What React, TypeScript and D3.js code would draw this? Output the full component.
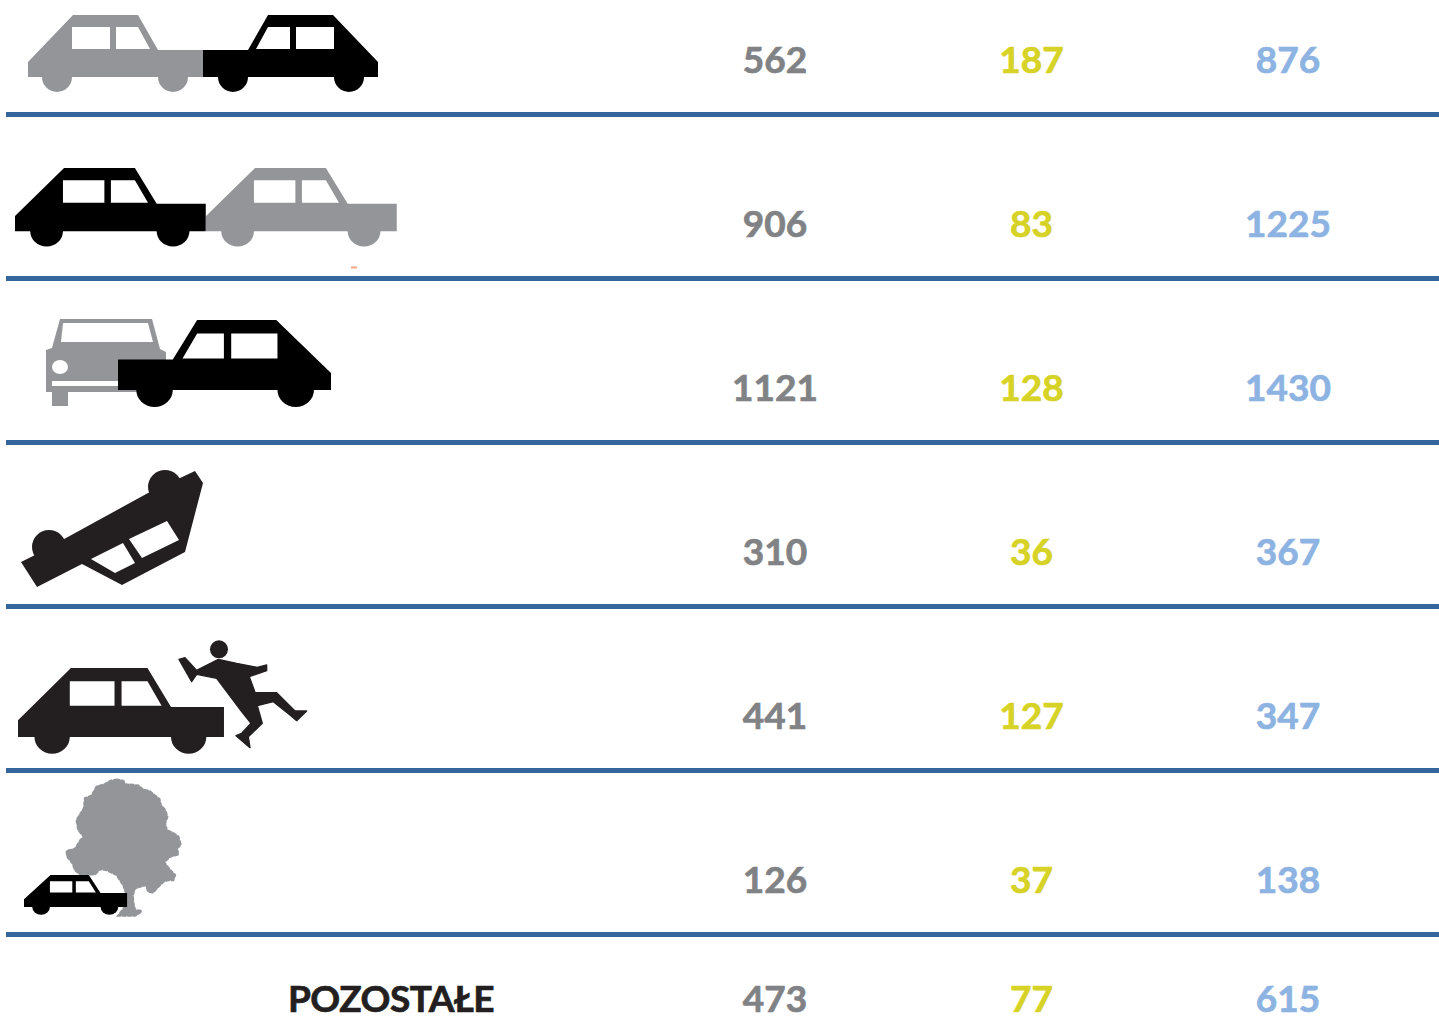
import React from "react";
import { scaleLinear, scalePoint, line, curveLinearClosed } from "d3";

const categories = ["tail-a", "tail-b", "side", "rollover", "pedestrian", "tree", "other"];
const otherLabel = "POZOSTAŁE";

// three value columns, one entry per row
const firstValues = [562, 906, 1121, 310, 441, 126, 473];
const secondValues = [187, 83, 128, 36, 127, 37, 77];
const thirdValues = [876, 1225, 1430, 367, 347, 138, 615];

const columns = [
  { key: "first", values: firstValues, color: "#808285" },
  { key: "second", values: secondValues, color: "#d6d226" },
  { key: "third", values: thirdValues, color: "#8db3e2" },
];

const WIDTH = 1439;
const HEIGHT = 1034;
const GREY = "#939598";
const DARK = "#231f20";

const xScale = scalePoint<string>().domain(columns.map((c) => c.key)).range([775, 1288]);
const yScale = scaleLinear().domain([0, categories.length - 1]).range([114.5, 1098.5]);

// text sits above the rule of its row, the last row has no rule and is set higher
const baseline = (i: number) => (i === categories.length - 1 ? 1012 : yScale(i) - 41.5);

// base car, faces left, 175 wide and 62 to the sill
const carBody = "M0 47L45 0H110L130 35H175V62H0Z";
const carGlass = "M44 12H82V34H44ZM88 12H110L122 34H88Z";

function Car({ x, y, sx = 1, sy = 1, fill }: { x: number; y: number; sx?: number; sy?: number; fill: string }) {
  return (
    <g transform={`translate(${x},${y}) scale(${sx},${sy})`}>
      <circle cx={29} cy={62} r={15} fill={fill} />
      <circle cx={145} cy={62} r={15} fill={fill} />
      <path d={carBody} fill={fill} />
      <path d={carGlass} fill="#fff" />
    </g>
  );
}

const closed = line().curve(curveLinearClosed);

const personPts: [number, number][] = [
  [27, 73], [45, 68], [80, 106], [145, 73], [200, 85], [262, 97], [290, 90], [290, 107], [238, 125],
  [255, 172], [320, 173], [375, 228], [410, 228], [380, 257], [360, 240], [310, 200], [262, 212],
  [277, 265], [235, 305], [240, 338], [198, 302], [215, 295], [243, 265], [215, 230], [140, 130],
  [80, 118], [65, 140],
];

const treePts: [number, number][] = [
  [170, 14], [190, 18], [195, 28], [220, 30], [235, 32], [250, 45], [268, 48], [285, 62], [298, 72],
  [302, 90], [315, 105], [322, 125], [315, 145], [320, 165], [340, 175], [355, 185], [362, 210],
  [350, 220], [355, 238], [330, 245], [312, 262], [330, 285], [345, 300], [340, 315], [325, 315],
  [310, 320], [295, 335], [280, 352], [265, 350], [258, 330], [240, 335], [225, 340], [218, 360],
  [220, 385], [225, 405], [245, 408], [235, 416], [225, 422], [175, 422], [195, 395], [200, 360],
  [190, 330], [170, 300], [140, 285], [120, 282], [105, 298], [60, 298], [45, 285], [38, 265],
  [22, 245], [20, 228], [45, 222], [62, 195], [72, 185], [55, 165], [50, 135], [72, 100], [75, 70],
  [95, 62], [110, 35], [135, 28], [150, 18],
];

function Icons() {
  return (
    <g>
      {/* tail-a */}
      <Car x={28} y={15} fill={GREY} />
      <Car x={378} y={15} sx={-1} fill="#000" />

      {/* tail-b */}
      <Car x={15} y={168} sx={1.09} sy={1.02} fill="#000" />
      <Car x={206} y={168} sx={1.09} sy={1.02} fill={GREY} />
      <path d="M351 266.5h6v2h-6z" fill="#f4a582" />

      {/* side */}
      <path d="M46 392V350L52 348L60 319H152L160 349L166 352V392H68V406H52V392Z" fill={GREY} />
      <path d="M63 323H148L153 342H61Z" fill="#fff" />
      <ellipse cx={60} cy={367} rx={8} ry={7} fill="#fff" />
      <rect x={52} y={381} width={70} height={5} fill="#fff" />
      <Car x={331} y={320} sx={-1.217} sy={1.13} fill="#000" />

      {/* rollover */}
      <circle cx={49} cy={547} r={17} fill={DARK} />
      <circle cx={165} cy={487} r={17} fill={DARK} />
      <path
        d="M21 562L37 587L82 564L122 585L185 552L203 483L195 471L148 493L35 555Z
           M91 559L123 543L135 563L115 573Z M129 539L167 521L179 540L142 558Z"
        fill={DARK}
        fillRule="evenodd"
      />

      {/* pedestrian */}
      <Car x={18} y={668} sx={1.177} sy={1.113} fill={DARK} />
      <g transform="translate(170,635) scale(0.3333)">
        <circle cx={147} cy={43} r={27} fill={DARK} />
        <path d={closed(personPts) ?? ""} fill={DARK} stroke={DARK} strokeWidth={4} strokeLinejoin="round" />
      </g>

      {/* tree, the dashed edge gives the leafy outline */}
      <g transform="translate(60,775) scale(0.3333)">
        <path
          d={closed(treePts) ?? ""}
          fill={GREY}
          stroke={GREY}
          strokeWidth={7}
          strokeDasharray="9 7"
          strokeLinecap="round"
        />
      </g>
      <Car x={24} y={875} sx={0.589} sy={0.516} fill="#000" />
    </g>
  );
}

export default function App() {
  const rules = categories.slice(0, -1);
  return (
    <svg
      width={WIDTH}
      height={HEIGHT}
      viewBox={`0 0 ${WIDTH} ${HEIGHT}`}
      style={{ position: "absolute", left: 0, top: 0, background: "#fff" }}
    >
      {rules.map((c, i) => (
        <line key={c} x1={6} x2={WIDTH} y1={yScale(i)} y2={yScale(i)} stroke="#34659b" strokeWidth={5} />
      ))}
      <Icons />
      <g
        fontFamily="Lato, 'Open Sans', sans-serif"
        fontWeight={700}
        fontSize={37}
        textAnchor="middle"
        strokeWidth={0.7}
      >
        <text x={391} y={1012} fill={DARK} stroke={DARK} letterSpacing={-0.5}>{otherLabel}</text>
        {columns.map((col) =>
          col.values.map((v, i) => (
            <text key={col.key + i} x={xScale(col.key)} y={baseline(i)} fill={col.color} stroke={col.color}>
              {v}
            </text>
          ))
        )}
      </g>
    </svg>
  );
}
